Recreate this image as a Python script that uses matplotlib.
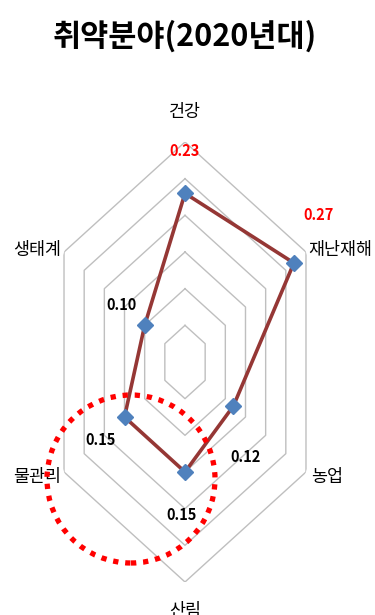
import numpy as np
import matplotlib
matplotlib.use("Agg")
import matplotlib.pyplot as plt
from matplotlib.patches import Ellipse

plt.rcParams['font.family'] = ['Noto Sans CJK KR', 'DejaVu Sans']

# data
categories = ["건강", "재난재해", "농업", "산림", "물관리", "생태계"]
values = [0.23, 0.27, 0.12, 0.15, 0.15, 0.10]
value_labels = ["0.23", "0.27", "0.12", "0.15", "0.15", "0.10"]
label_colors = ["red", "red", "black", "black", "black", "black"]
rings = [0.05, 0.10, 0.15, 0.20, 0.25, 0.30]

W, H = 375, 615
fig = plt.figure(figsize=(W / 100, H / 100), dpi=100)


def px(x, y):
    # pixel (from top-left) -> figure fraction
    return x / W, 1 - y / H


# polar axes squeezed horizontally like the original
ax = fig.add_axes([45.3 / W, 1 - 582 / H, 279.4 / W, 440 / H], projection="polar")
ax.set_aspect("auto")
ax.set_theta_offset(np.pi / 2)
ax.set_theta_direction(-1)
ax.set_ylim(0, 0.3)
ax.grid(False)
ax.set_xticks([])
ax.set_yticks([])
ax.spines['polar'].set_visible(False)

n = len(categories)
theta = np.linspace(0, 2 * np.pi, n, endpoint=False)
theta_c = np.append(theta, theta[0])

# hexagon grid
for r in rings:
    ax.plot(theta_c, [r] * (n + 1), color="#BFBFBF", lw=1.0, zorder=1)

vals_c = values + values[:1]
ax.plot(theta_c, vals_c, color="#953735", lw=2.6, zorder=3)
ax.plot(theta, values, ls="none", marker="D", ms=8.5, color="#4F81BD", zorder=4)

# value labels
offsets = [(0, 42), (25, 48), (12, -51), (-3, -43), (-24, -23), (-23, 20)]
for t, v, s, c, o in zip(theta, values, value_labels, label_colors, offsets):
    ax.annotate(s, xy=(t, v), xytext=(o[0], o[1]), textcoords="offset pixels",
                ha="center", va="center", fontsize=10.5, color=c,
                fontweight="bold", annotation_clip=False)

# category labels
cat_pos = [(185, 112), (340, 250), (327, 477), (185, 611), (37, 477), (37, 250)]
for name, (x, y) in zip(categories, cat_pos):
    fx, fy = px(x, y)
    fig.text(fx, fy, name, ha="center", va="center", fontsize=12.5,
             fontweight="medium")

# title
tx, ty = px(185, 36)
fig.text(tx, ty, "취약분야(2020년대)", ha="center", va="center",
         fontsize=22, fontweight="bold")

# red dotted highlight circle
cx, cy = px(131, 479)
circ = Ellipse((cx, cy), 168 / W, 168 / H, transform=fig.transFigure,
               fill=False, edgecolor="red", lw=3.8, ls=(0, (1, 1.3)),
               zorder=5)
fig.patches.append(circ)

fig.savefig("out.png", dpi=100)
